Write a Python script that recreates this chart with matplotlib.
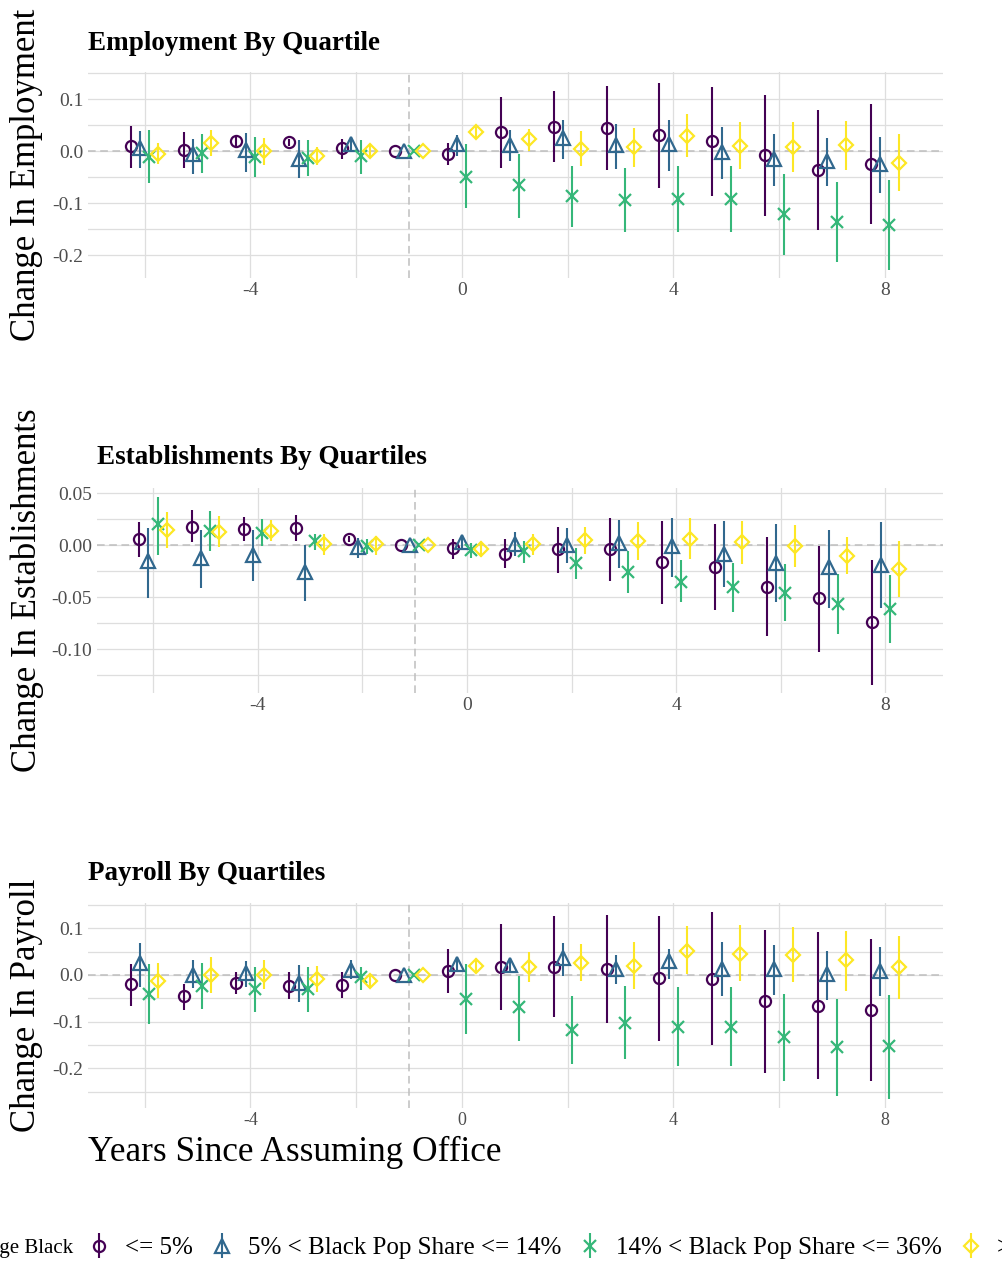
import matplotlib
matplotlib.use("Agg")
import matplotlib.pyplot as plt
import numpy as np

plt.rcParams['font.family'] = ['Liberation Serif', 'DejaVu Serif']

# ---------------- data ----------------
years = [-6, -5, -4, -3, -2, -1, 0, 1, 2, 3, 4, 5, 6, 7, 8]
group_labels = ["<= 5%", "5% < Black Pop Share <= 14%",
                "14% < Black Pop Share <= 36%", "> 36%"]
legend_title = "Percentage Black"

# Employment (est, lo, hi) per group
emp_est = [
    [0.009, 0.003, 0.019, 0.017, 0.006, 0, -0.005, 0.037, 0.047, 0.044, 0.030, 0.019, -0.008, -0.036, -0.024],
    [0.005, -0.006, 0.003, -0.015, 0.014, 0, 0.014, 0.011, 0.026, 0.011, 0.014, -0.001, -0.015, -0.019, -0.024],
    [-0.012, -0.004, -0.012, -0.013, -0.010, 0, -0.049, -0.066, -0.087, -0.095, -0.092, -0.092, -0.121, -0.136, -0.143],
    [-0.005, 0.015, 0.001, -0.009, 0.000, 0, 0.037, 0.023, 0.004, 0.008, 0.029, 0.010, 0.008, 0.011, -0.022],
]
emp_lo = [
    [-0.032, -0.033, 0.006, 0.010, -0.015, 0, -0.026, -0.032, -0.021, -0.037, -0.071, -0.087, -0.125, -0.151, -0.140],
    [-0.032, -0.044, -0.040, -0.051, 0.003, 0, -0.010, -0.019, -0.015, -0.034, -0.038, -0.053, -0.068, -0.068, -0.080],
    [-0.062, -0.042, -0.049, -0.047, -0.044, 0, -0.110, -0.129, -0.146, -0.156, -0.156, -0.156, -0.199, -0.213, -0.228],
    [-0.024, -0.010, -0.026, -0.026, -0.012, 0, 0.026, 0.001, -0.029, -0.031, -0.012, -0.034, -0.041, -0.037, -0.077],
]
emp_hi = [
    [0.048, 0.036, 0.030, 0.023, 0.024, 0, 0.015, 0.104, 0.115, 0.126, 0.131, 0.124, 0.108, 0.079, 0.091],
    [0.038, 0.024, 0.035, 0.022, 0.027, 0, 0.030, 0.040, 0.060, 0.053, 0.059, 0.046, 0.033, 0.026, 0.027],
    [0.041, 0.032, 0.027, 0.022, 0.022, 0, 0.013, -0.005, -0.029, -0.032, -0.029, -0.029, -0.044, -0.060, -0.056],
    [0.016, 0.040, 0.026, 0.008, 0.011, 0, 0.046, 0.043, 0.038, 0.045, 0.071, 0.055, 0.056, 0.058, 0.033],
]

# Establishments
est_est = [
    [0.006, 0.018, 0.016, 0.017, 0.006, 0, -0.003, -0.008, -0.004, -0.004, -0.016, -0.021, -0.040, -0.051, -0.074],
    [-0.015, -0.012, -0.009, -0.026, -0.002, 0, 0.003, 0.001, 0.000, 0.002, -0.001, -0.008, -0.017, -0.021, -0.019],
    [0.020, 0.014, 0.012, 0.004, -0.001, 0, -0.005, -0.006, -0.017, -0.026, -0.035, -0.040, -0.046, -0.056, -0.061],
    [0.015, 0.013, 0.014, 0.001, 0.001, 0, -0.004, 0.001, 0.005, 0.004, 0.006, 0.003, -0.001, -0.010, -0.023],
]
est_lo = [
    [-0.011, 0.003, 0.004, 0.004, 0.003, 0, -0.013, -0.022, -0.027, -0.034, -0.056, -0.062, -0.087, -0.103, -0.134],
    [-0.051, -0.041, -0.034, -0.054, -0.012, 0, -0.004, -0.010, -0.017, -0.022, -0.031, -0.040, -0.055, -0.060, -0.060],
    [-0.009, -0.006, -0.001, -0.005, -0.008, 0, -0.012, -0.017, -0.032, -0.046, -0.055, -0.064, -0.073, -0.085, -0.094],
    [-0.003, -0.002, 0.004, -0.009, -0.009, 0, -0.011, -0.009, -0.008, -0.014, -0.013, -0.018, -0.021, -0.028, -0.050],
]
est_hi = [
    [0.022, 0.034, 0.027, 0.029, 0.009, 0, 0.006, 0.006, 0.018, 0.026, 0.023, 0.020, 0.008, -0.001, -0.014],
    [0.017, 0.015, 0.015, 0.000, 0.007, 0, 0.010, 0.013, 0.017, 0.024, 0.026, 0.023, 0.020, 0.015, 0.022],
    [0.046, 0.033, 0.025, 0.011, 0.006, 0, 0.002, 0.004, -0.003, -0.006, -0.014, -0.017, -0.018, -0.028, -0.029],
    [0.032, 0.028, 0.024, 0.011, 0.009, 0, 0.004, 0.011, 0.018, 0.022, 0.026, 0.023, 0.019, 0.008, 0.004],
]

# Payroll
pay_est = [
    [-0.020, -0.046, -0.018, -0.023, -0.021, 0, 0.009, 0.016, 0.018, 0.013, -0.007, -0.009, -0.056, -0.066, -0.075],
    [0.026, 0.000, 0.004, -0.018, 0.011, 0, 0.024, 0.021, 0.036, 0.013, 0.029, 0.013, 0.013, 0.002, 0.009],
    [-0.041, -0.024, -0.031, -0.030, -0.005, 0, -0.052, -0.068, -0.118, -0.102, -0.111, -0.111, -0.133, -0.155, -0.153],
    [-0.012, 0.000, 0.000, -0.009, -0.014, 0, 0.019, 0.018, 0.026, 0.019, 0.052, 0.045, 0.043, 0.031, 0.016],
]
pay_lo = [
    [-0.066, -0.075, -0.041, -0.052, -0.050, 0, -0.038, -0.076, -0.091, -0.102, -0.141, -0.151, -0.209, -0.223, -0.227],
    [-0.025, -0.029, -0.026, -0.057, -0.009, 0, 0.007, 0.005, -0.002, -0.019, -0.009, -0.045, -0.043, -0.054, -0.046],
    [-0.106, -0.074, -0.079, -0.079, -0.032, 0, -0.127, -0.141, -0.191, -0.181, -0.195, -0.195, -0.228, -0.259, -0.266],
    [-0.050, -0.039, -0.030, -0.036, -0.026, 0, 0.004, -0.016, -0.014, -0.031, 0.002, -0.014, -0.016, -0.034, -0.051],
]
pay_hi = [
    [0.024, -0.020, 0.006, 0.007, 0.007, 0, 0.055, 0.108, 0.126, 0.128, 0.126, 0.134, 0.096, 0.091, 0.076],
    [0.069, 0.031, 0.029, 0.021, 0.031, 0, 0.039, 0.036, 0.069, 0.043, 0.056, 0.070, 0.064, 0.052, 0.059],
    [0.024, 0.025, 0.016, 0.018, 0.016, 0, 0.024, -0.002, -0.045, -0.024, -0.026, -0.026, -0.041, -0.051, -0.043],
    [0.026, 0.039, 0.031, 0.019, 0.000, 0, 0.036, 0.050, 0.066, 0.070, 0.105, 0.106, 0.102, 0.093, 0.084],
]

panel_titles = ["Employment By Quartile", "Establishments By Quartiles", "Payroll By Quartiles"]
panel_ylabels = ["Change In Employment", "Change In Establishments", "Change In Payroll"]
xlabel = "Years Since Assuming Office"

# ---------------- style ----------------
colors = ["#440154", "#31688E", "#35B779", "#FDE725"]
markers = ["o", "^", "x", "D"]
msizes = [8.0, 9.5, 8.5, 6.8]
offsets = [-0.2625, -0.0875, 0.0875, 0.2625]

W, H = 1002, 1264
fig = plt.figure(figsize=(W / 100, H / 100), dpi=100)

# panel boxes in pixel coords: left, right, top, bottom
boxes = [(88, 943, 72, 278), (97, 943, 488, 693), (88, 943, 903, 1108)]
ylims = [(-0.244, 0.152), (-0.142, 0.055), (-0.285, 0.154)]
ymajor = [[-0.2, -0.1, 0.0, 0.1], [-0.10, -0.05, 0.0, 0.05], [-0.2, -0.1, 0.0, 0.1]]
yminor = [[-0.15, -0.05, 0.05, 0.15], [-0.125, -0.075, -0.025, 0.025],
          [-0.25, -0.15, -0.05, 0.05, 0.15]]
yfmt = ["{:.1f}", "{:.2f}", "{:.1f}"]
title_base = [50, 464, 880]
xtick_size = [14, 14, 13]

data = [(emp_est, emp_lo, emp_hi), (est_est, est_lo, est_hi), (pay_est, pay_lo, pay_hi)]

grid_c = "#DEDEDE"
legend_handles = None
for p in range(3):
    l, r, t, b = boxes[p]
    ax = fig.add_axes([l / W, 1 - b / H, (r - l) / W, (b - t) / H])
    ax.set_xlim(-7.07, 9.1)
    ax.set_ylim(*ylims[p])
    for s in ax.spines.values():
        s.set_visible(False)
    ax.set_xticks([-4, 0, 4, 8])
    ax.set_xticks([-6, -2, 2, 6], minor=True)
    ax.set_yticks(ymajor[p])
    ax.set_yticks(yminor[p], minor=True)
    ax.set_yticklabels([yfmt[p].format(v) for v in ymajor[p]])
    ax.set_xticklabels(["-4", "0", "4", "8"])
    ax.tick_params(axis='both', which='both', length=0, colors="#4D4D4D")
    ax.tick_params(axis='y', labelsize=14, pad=3.5)
    ax.tick_params(axis='x', labelsize=xtick_size[p], pad=3)
    ax.grid(True, which='both', color=grid_c, linewidth=0.9)
    ax.set_axisbelow(True)
    ax.axhline(0, color="#BEBEBE", linewidth=1.1, dashes=(5, 3), zorder=1.5)
    ax.axvline(-1, color="#BEBEBE", linewidth=1.1, dashes=(5, 3), zorder=1.5)

    est, lo, hi = data[p]
    handles = []
    for g in range(4):
        e = np.array(est[g]); lw_ = np.array(lo[g]); hw = np.array(hi[g])
        xs = np.array(years) + offsets[g]
        h = ax.errorbar(xs, e, yerr=[e - lw_, hw - e], fmt=markers[g], color=colors[g],
                        ecolor=colors[g], elinewidth=1.5, capsize=0,
                        markersize=msizes[g], markerfacecolor='none',
                        markeredgecolor=colors[g], markeredgewidth=1.6, zorder=3)
        handles.append(h)
    if p == 0:
        legend_handles = handles

    fig.text(l / W, 1 - title_base[p] / H, panel_titles[p], fontsize=19.5,
             fontweight='bold', ha='left', va='baseline')
    fig.text(27 / W, 1 - ((t + b) / 2) / H, panel_ylabels[p], fontsize=25,
             rotation=90, ha='center', va='center')

fig.text(88 / W, 1 - 1161 / H, xlabel, fontsize=25.4, ha='left', va='baseline')

# legend
fig.text(73 / W, 1 - 1248 / H, legend_title, fontsize=15, ha='right', va='center')
fig.legend(legend_handles, group_labels, loc='center left',
           bbox_to_anchor=(89 / W, 1 - 1248 / H), ncol=4, frameon=False,
           fontsize=18, handlelength=0.8, handletextpad=0.65, columnspacing=0.75,
           borderaxespad=0, borderpad=0)

fig.savefig("out.png", dpi=100)
